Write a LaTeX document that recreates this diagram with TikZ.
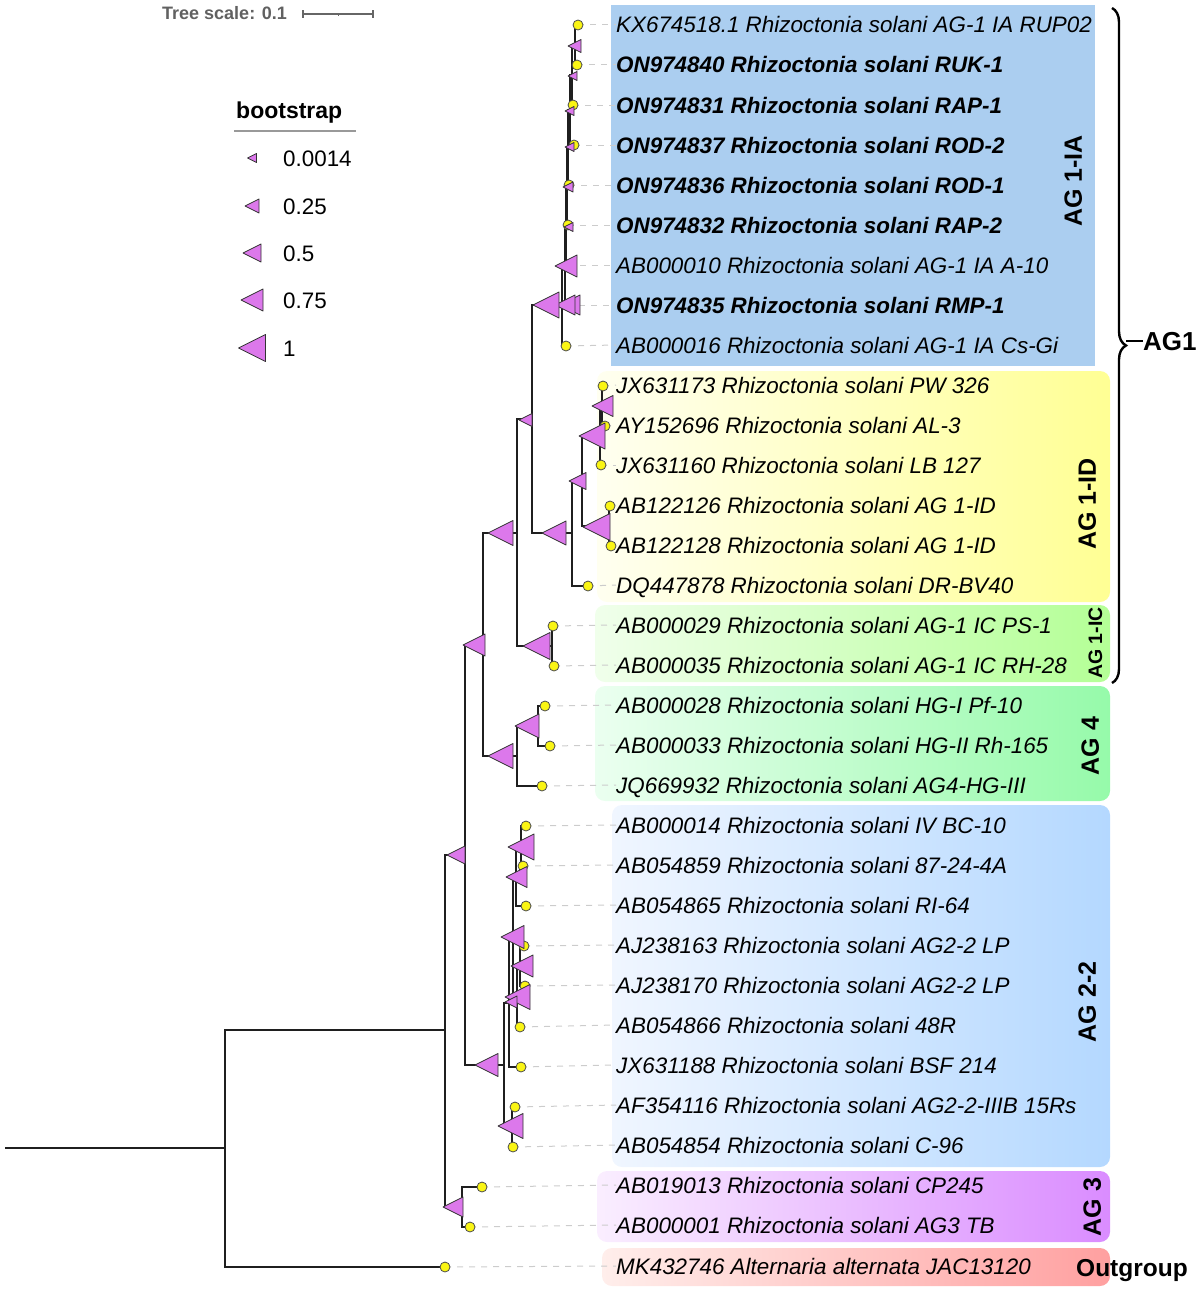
\documentclass[tikz,border=0pt]{standalone}
\usepackage{fontspec}
\setmainfont{Liberation Sans}
\usetikzlibrary{decorations.pathreplacing}
\definecolor{trifill}{RGB}{220,120,235}
\definecolor{dotyel}{RGB}{250,245,20}
\definecolor{iablue}{RGB}{171,206,240}
\begin{document}
\begin{tikzpicture}[x=1pt,y=-1pt,
  branch/.style={draw=black!88, line width=1.8pt},
  bstri/.style={fill=trifill, draw=black!80, line width=0.8pt, line join=round},
  dotm/.style={fill=dotyel, draw=black!70, line width=0.8pt},
  lead/.style={draw=black!20, line width=1pt, dash pattern=on 6pt off 6pt},
  lab/.style={anchor=west, inner sep=0pt, text height=16pt, text depth=0pt, font=\fontsize{22.4}{26}\selectfont\itshape},
  labb/.style={lab, font=\fontsize{22.4}{26}\selectfont\bfseries\itshape},
  grp/.style={rotate=90, inner sep=0pt, text height=17.9pt, text depth=0pt, font=\fontsize{25}{28}\selectfont\bfseries},
  grpbox/.style={rounded corners=10pt},
  legtxt/.style={anchor=west, inner sep=0pt, text height=16pt, text depth=0pt, font=\fontsize{22.4}{26}\selectfont},
]
\useasboundingbox (0,0) rectangle (1200,1290);

% ---------- coloured group boxes ----------
\fill[iablue] (611,5) rectangle (1095,366);
\shade[grpbox, left color={rgb,255:red,255;green,255;blue,240}, right color={rgb,255:red,255;green,255;blue,148}] (597,371) rectangle (1110,602);
\shade[grpbox, left color={rgb,255:red,240;green,255;blue,235}, right color={rgb,255:red,180;green,255;blue,150}] (595,605) rectangle (1110,682);
\shade[grpbox, left color={rgb,255:red,235;green,255;blue,240}, right color={rgb,255:red,150;green,250;blue,170}] (595,686) rectangle (1110,801);
\shade[grpbox, left color={rgb,255:red,240;green,246;blue,255}, right color={rgb,255:red,180;green,216;blue,255}] (612,805) rectangle (1110,1167);
\shade[grpbox, left color={rgb,255:red,250;green,238;blue,255}, right color={rgb,255:red,218;green,140;blue,255}] (597,1171) rectangle (1110,1242);
\shade[grpbox, left color={rgb,255:red,255;green,238;blue,235}, right color={rgb,255:red,255;green,160;blue,160}] (602,1248) rectangle (1110,1286);

% ---------- leaf labels ----------
\node[lab]  (t1)  at (616,25)   {KX674518.1 Rhizoctonia solani AG-1 IA RUP02};
\node[labb] (t2)  at (616,65)   {ON974840 Rhizoctonia solani RUK-1};
\node[labb] (t3)  at (616,105)  {ON974831 Rhizoctonia solani RAP-1};
\node[labb] (t4)  at (616,145)  {ON974837 Rhizoctonia solani ROD-2};
\node[labb] (t5)  at (616,185)  {ON974836 Rhizoctonia solani ROD-1};
\node[labb] (t6)  at (616,225)  {ON974832 Rhizoctonia solani RAP-2};
\node[lab]  (t7)  at (616,265)  {AB000010 Rhizoctonia solani AG-1 IA A-10};
\node[labb] (t8)  at (616,305)  {ON974835 Rhizoctonia solani RMP-1};
\node[lab]  (t9)  at (616,345)  {AB000016 Rhizoctonia solani AG-1 IA Cs-Gi};
\node[lab]  (t10) at (616,385)  {JX631173 Rhizoctonia solani PW 326};
\node[lab]  (t11) at (616,425)  {AY152696 Rhizoctonia solani AL-3};
\node[lab]  (t12) at (616,465)  {JX631160 Rhizoctonia solani LB 127};
\node[lab]  (t13) at (616,505)  {AB122126 Rhizoctonia solani AG 1-ID};
\node[lab]  (t14) at (616,545)  {AB122128 Rhizoctonia solani AG 1-ID};
\node[lab]  (t15) at (616,585)  {DQ447878 Rhizoctonia solani DR-BV40};
\node[lab]  (t16) at (616,625)  {AB000029 Rhizoctonia solani AG-1 IC PS-1};
\node[lab]  (t17) at (616,665)  {AB000035 Rhizoctonia solani AG-1 IC RH-28};
\node[lab]  (t18) at (616,705)  {AB000028 Rhizoctonia solani HG-I Pf-10};
\node[lab]  (t19) at (616,745)  {AB000033 Rhizoctonia solani HG-II Rh-165};
\node[lab]  (t20) at (616,785)  {JQ669932 Rhizoctonia solani AG4-HG-III};
\node[lab]  (t21) at (616,825)  {AB000014 Rhizoctonia solani IV BC-10};
\node[lab]  (t22) at (616,865)  {AB054859 Rhizoctonia solani 87-24-4A};
\node[lab]  (t23) at (616,905)  {AB054865 Rhizoctonia solani RI-64};
\node[lab]  (t24) at (616,945)  {AJ238163 Rhizoctonia solani AG2-2 LP};
\node[lab]  (t25) at (616,985)  {AJ238170 Rhizoctonia solani AG2-2 LP};
\node[lab]  (t26) at (616,1025) {AB054866 Rhizoctonia solani 48R};
\node[lab]  (t27) at (616,1065) {JX631188 Rhizoctonia solani BSF 214};
\node[lab]  (t28) at (616,1105) {AF354116 Rhizoctonia solani AG2-2-IIIB 15Rs};
\node[lab]  (t29) at (616,1145) {AB054854 Rhizoctonia solani C-96};
\node[lab]  (t30) at (616,1185) {AB019013 Rhizoctonia solani CP245};
\node[lab]  (t31) at (616,1225) {AB000001 Rhizoctonia solani AG3 TB};
\node[lab]  (t32) at (616,1266) {MK432746 Alternaria alternata JAC13120};

% ---------- group labels ----------
\node[grp] (gIA) at (1073,181) {AG 1-IA};
\node[grp] (gID) at (1087,504) {AG 1-ID};
\node[grp, text height=14pt, font=\fontsize{19.5}{22}\selectfont\bfseries] (gIC) at (1095,643) {AG 1-IC};
\node[grp] (g4) at (1090,746) {AG 4};
\node[grp] (g22) at (1087,1002) {AG 2-2};
\node[grp] (g3) at (1092,1207) {AG 3};
\node[anchor=west, inner sep=0pt, text height=17.5pt, text depth=0pt, font=\fontsize{24.5}{28}\selectfont\bfseries] (gout) at (1076,1268) {Outgroup};
\node[anchor=west, inner sep=0pt, text height=18.5pt, text depth=0pt, font=\fontsize{26}{30}\selectfont\bfseries] (gAG1) at (1143,341) {AG1};
\coordinate (brtop) at (1112,8);
\coordinate (brbot) at (1112,683);
\coordinate (brtip) at (1126,341);
\draw[line width=2.4pt, decorate, decoration={brace, amplitude=14pt}] (brtop) -- (brbot);
\draw[line width=2.4pt] (brtip) -- (gAG1.west);

% ---------- tree coordinates ----------
\foreach \n/\x/\y in {l1/578/25, l2/577/65, l3/573/105, l4/574/145, l5/569/185, l6/568/225, l7/568/265, l8/567/305, l9/566/346,
  l10/603/386, l11/605/426, l12/601/465, l13/610/506, l14/611/546, l15/588/586, l16/553/626, l17/554/666,
  l18/545/706, l19/550/746, l20/542/786, l21/526/826, l22/523/866, l23/526/906, l24/524/946, l25/525/986,
  l26/520/1027, l27/521/1067, l28/515/1107, l29/513/1147, l30/482/1187, l31/470/1227, l32/445/1267,
  stem/5/1148, root/225/1148, n1/445/1030, n2/465/855, n3/483/645, n4/517/533, n5/532/419,
  c8/562/305, c7/565/265, c6/566/226, c5/567/186, c4/568/147, c3/570/110, c2/572/75, c1/575/45,
  nID/572/533, nIDa/582/481, nIDb/600/436, nIDc/602/406, nIDd/609/526, nIC/552/646,
  nAGf/517/756, nAGfa/538/726, nT/509/1003, nU/513/938, nV/516/877, nX/521/847, nW/517/997,
  nY/520/966, nZ/512/1127, nTT/504/1065, nAGt/462/1207}
  \coordinate (\n) at (\x,\y);

% ---------- leader lines ----------
\foreach \i in {1,...,32} \draw[lead] (l\i) -- (t\i.west);

% ---------- branches ----------
\draw[branch] (stem) -- (root);
\foreach \p/\c in {root/n1, root/l32, n1/n2, n1/nAGt, nAGt/l30, nAGt/l31, n2/n3, n2/nTT,
  n3/n4, n3/nAGf, nAGf/nAGfa, nAGf/l20, nAGfa/l18, nAGfa/l19, n4/n5, n4/nIC, nIC/l16, nIC/l17,
  n5/c8, n5/nID, c8/c7, c8/l9, c7/c6, c7/l8, c6/c5, c6/l7, c5/c4, c5/l6, c4/c3, c4/l5, c3/c2, c3/l4,
  c2/c1, c2/l3, c1/l1, c1/l2, nID/nIDa, nID/l15, nIDa/nIDb, nIDa/nIDd, nIDb/nIDc, nIDb/l12,
  nIDc/l10, nIDc/l11, nIDd/l13, nIDd/l14, nTT/nT, nTT/nZ, nT/nU, nT/l27, nU/nV, nU/nW,
  nV/nX, nV/l23, nX/l21, nX/l22, nW/nY, nW/l26, nY/l24, nY/l25, nZ/l28, nZ/l29}
  \draw[branch] (\p) |- (\c);

% ---------- leaf dots ----------
\foreach \i in {1,...,32} \filldraw[dotm] (l\i) circle (5pt);

% ---------- bootstrap triangles ----------
\foreach \x/\y/\w in {581/46/13, 577/76/9, 574/111/9, 574/147/9, 573/187/10, 573/227/9, 577/266/22,
  580/305/20, 575/305/20, 559/305/26, 532/420/13, 513/533/25, 566/533/24, 586/481/17, 605/436/26,
  613/406/21, 610/527/27, 550/646/27, 485/645/22, 513/756/25, 539/726/24, 465/855/18, 463/1207/20,
  534/847/26, 527/877/21, 524/937/23, 533/966/22, 530/997/25, 517/1002/12, 498/1065/23, 523/1126/25}
  \filldraw[bstri] ({\x-\w},\y) -- (\x,{\y-\w/2}) -- (\x,{\y+\w/2}) -- cycle;

% ---------- tree scale ----------
\node[anchor=base west, inner sep=0pt, text=black!62, font=\fontsize{18}{20}\selectfont\bfseries] (tscale) at (162,20) {Tree scale: 0.1};
\coordinate (sb1) at (303,14);
\coordinate (sb2) at (373,14);
\coordinate (sbm) at (338,14);
\draw[black!60, line width=1.2pt] (sb1) -- (sb2);
\draw[black!60, line width=1.2pt] ([yshift=-4pt]sb1) -- ([yshift=4pt]sb1);
\draw[black!60, line width=1.2pt] ([yshift=-4pt]sb2) -- ([yshift=4pt]sb2);
\draw[black!60, line width=1pt] (sbm) -- ([yshift=-2pt]sbm);

% ---------- legend ----------
\node[anchor=base west, inner sep=0pt, font=\fontsize{23}{26}\selectfont\bfseries] (bst) at (236,118) {bootstrap};
\coordinate (ul1) at (234,131);
\coordinate (ul2) at (356,131);
\draw[black!40, line width=2pt] (ul1) -- (ul2);
\foreach \v/\y/\w in {0.0014/158/9, 0.25/206/14, 0.5/253/18, 0.75/300/22, 1/348/27} {
  \filldraw[bstri] ({252-\w/2},\y) -- ({252+\w/2},{\y-\w/2}) -- ({252+\w/2},{\y+\w/2}) -- cycle;
  \node[legtxt] (lg\y) at (283,\y) {\v};
}
\end{tikzpicture}
\end{document}
